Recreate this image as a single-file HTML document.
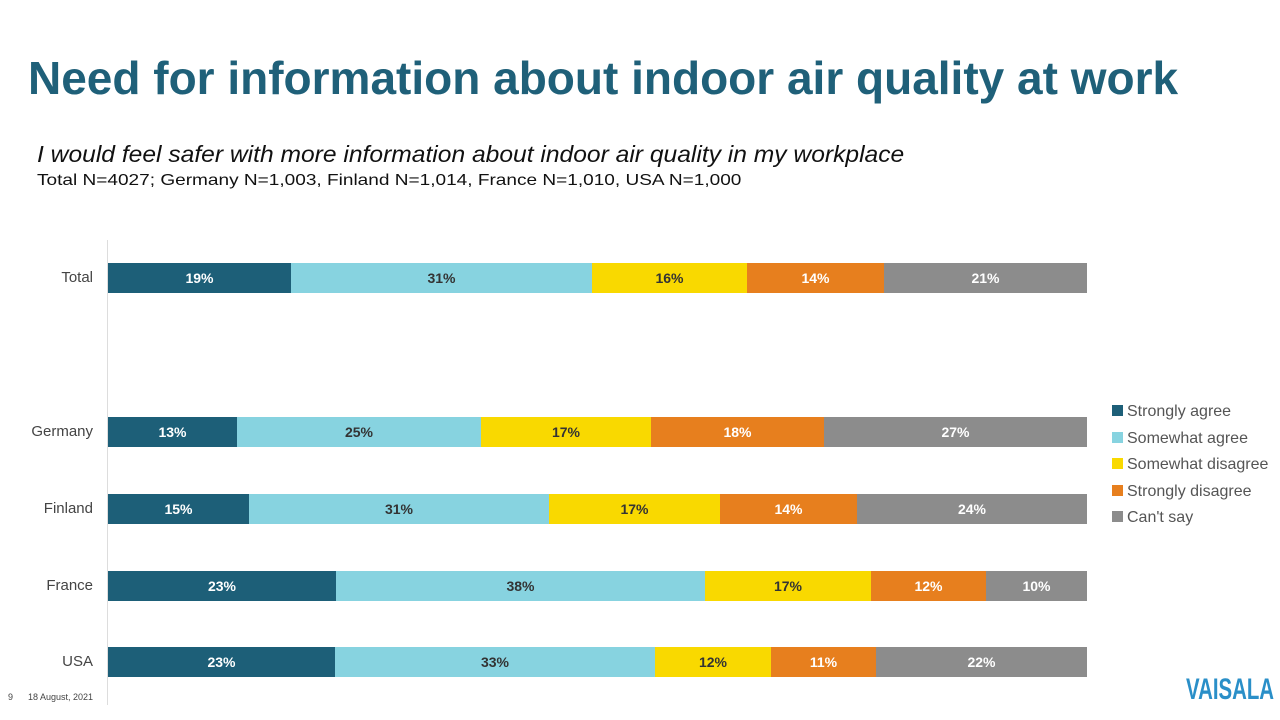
<!DOCTYPE html><html><head><style>
body{margin:0;width:1280px;height:720px;background:#fff;position:relative;font-family:"Liberation Sans",Arial,sans-serif;overflow:hidden}
.a{position:absolute}
.s{position:absolute;height:30px;line-height:30px;text-align:center;font-weight:bold;font-size:14px;color:#fff}
.lab{position:absolute;right:1187px;font-size:15px;color:#444;height:30px;line-height:30px;text-align:right;width:100px}
.lg{position:absolute;left:1112px;font-size:16px;color:#555}
.lg span{display:inline-block;width:11px;height:11px;margin-right:4px;vertical-align:0px}
</style></head><body>
<div class="a" style="left:28px;top:51px;font-size:46px;font-weight:bold;color:#1f6079;white-space:nowrap">Need for information about indoor air quality at work</div>
<div class="a" style="left:37px;top:141px;font-size:23px;font-style:italic;color:#111;white-space:nowrap;transform:scaleX(1.07);transform-origin:left">I would feel safer with more information about indoor air quality in my workplace</div>
<div class="a" style="left:37px;top:172px;font-size:16px;color:#111;white-space:nowrap;transform:scaleX(1.19);transform-origin:left">Total N=4027; Germany N=1,003, Finland N=1,014, France N=1,010, USA N=1,000</div>
<div class="a" style="left:107px;top:240px;width:1px;height:465px;background:#ddd"></div>
<div id="c"></div>
<div class="lg" style="top:403px"><span style="background:#1d5f78"></span>Strongly agree</div>
<div class="lg" style="top:430px"><span style="background:#87d3e0"></span>Somewhat agree</div>
<div class="lg" style="top:456px"><span style="background:#f9d900"></span>Somewhat disagree</div>
<div class="lg" style="top:483px"><span style="background:#e77f1e"></span>Strongly disagree</div>
<div class="lg" style="top:509px"><span style="background:#8c8c8c"></span>Can't say</div>
<div class="a" style="left:8px;top:692px;font-size:9px;color:#444">9</div>
<div class="a" style="left:28px;top:692px;font-size:9px;color:#444">18 August, 2021</div>
<div class="a" style="left:1186px;top:673px;font-size:30px;font-weight:bold;color:#2a8fc8;transform:scaleX(0.68);transform-origin:left;white-space:nowrap">VAISALA</div>
<script>
var rows=[["Total",263,[108,291,592,747,884,1087],["19%","31%","16%","14%","21%"]],
["Germany",417,[108,237,481,651,824,1087],["13%","25%","17%","18%","27%"]],
["Finland",494,[108,249,549,720,857,1087],["15%","31%","17%","14%","24%"]],
["France",571,[108,336,705,871,986,1087],["23%","38%","17%","12%","10%"]],
["USA",647,[108,335,655,771,876,1087],["23%","33%","12%","11%","22%"]]];
var col=["#1d5f78","#87d3e0","#f9d900","#e77f1e","#8c8c8c"],tc=["#fff","#333","#333","#fff","#fff"];
var h="";
rows.forEach(function(r){h+='<div class="lab" style="top:'+r[1]+'px">'+r[0]+'</div>';
for(var i=0;i<5;i++)h+='<div class="s" style="left:'+r[2][i]+'px;width:'+(r[2][i+1]-r[2][i])+'px;top:'+r[1]+'px;background:'+col[i]+';color:'+tc[i]+'">'+r[3][i]+'</div>';});
document.getElementById("c").innerHTML=h;
</script>
</body></html>
